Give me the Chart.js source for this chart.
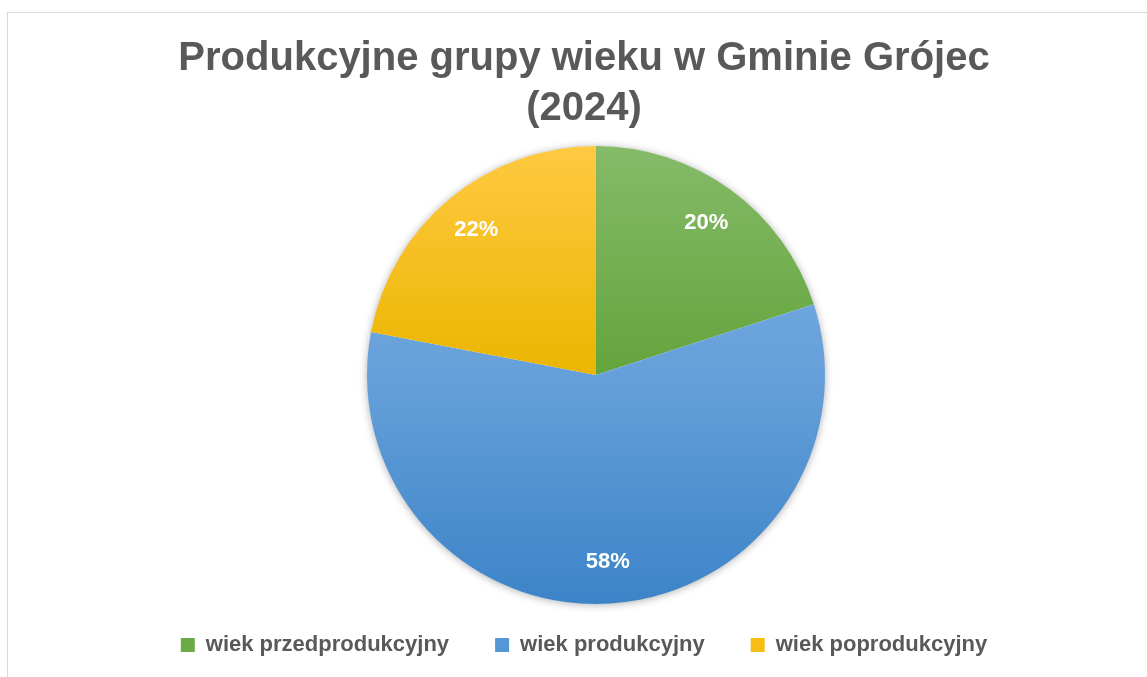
<!DOCTYPE html>
<html lang="pl">
<head>
<meta charset="utf-8">
<title>Produkcyjne grupy wieku w Gminie Grójec (2024)</title>
<script src="https://cdn.jsdelivr.net/npm/chart.js@4.4.0/dist/chart.umd.min.js"></script>
<style>
  html, body { margin: 0; padding: 0; background: #fff; overflow: hidden; }
  #frame { position: absolute; left: 7px; top: 12px; width: 1200px; height: 720px; border: 1px solid #d9d9d9; box-sizing: border-box; }
  #wrap { position: absolute; left: 0; top: 0; width: 1147px; height: 677px; }
</style>
</head>
<body>
<div id="frame"></div>
<div id="wrap"><canvas id="pieChart" width="1147" height="677"></canvas></div>
<script>
const chartTitle = ['Produkcyjne grupy wieku w Gminie Grójec', '(2024)'];
const categories = ['wiek przedprodukcyjny', 'wiek produkcyjny', 'wiek poprodukcyjny'];
const shares = [20, 58, 22];

// gradient stops per slice, top of pie -> bottom of pie
const sliceStops = [
  ['#85bb69', '#64a43c', '#4f8f2b'],
  ['#7db1e1', '#66a0da', '#3c84c8'],
  ['#ffc942', '#ebb500', '#d9a400']
];
const legendColors = ['#6aab45', '#5596d5', '#f6be14'];

function sliceFill(ctx) {
  const chart = ctx.chart;
  const a = chart.chartArea;
  if (!a) return legendColors[ctx.dataIndex];
  const r = Math.min(a.right - a.left, a.bottom - a.top) / 2;
  const cy = (a.top + a.bottom) / 2;
  const g = chart.ctx.createLinearGradient(0, cy - r, 0, cy + r);
  const stops = sliceStops[ctx.dataIndex];
  stops.forEach((c, k) => g.addColorStop(k / (stops.length - 1), c));
  return g;
}

// put the pie where the original has it
const pieArea = {
  id: 'pieArea',
  afterLayout(chart) {
    const a = chart.chartArea;
    a.left = 367; a.right = 825; a.top = 146; a.bottom = 604;
    a.width = 458; a.height = 458;
  }
};

// soft shadow under the pie + percentage labels
const pieExtras = {
  id: 'pieExtras',
  beforeDatasetsDraw(chart) {
    const arc = chart.getDatasetMeta(0).data[0];
    if (!arc) return;
    const ctx = chart.ctx;
    ctx.save();
    ctx.shadowColor = 'rgba(0,0,0,0.35)';
    ctx.shadowBlur = 8;
    ctx.shadowOffsetY = 1;
    ctx.fillStyle = '#fff';
    ctx.beginPath();
    ctx.arc(arc.x, arc.y, arc.outerRadius - 0.5, 0, Math.PI * 2);
    ctx.fill();
    ctx.restore();
  },
  afterDatasetsDraw(chart) {
    const ctx = chart.ctx;
    const data = chart.data.datasets[0].data;
    const total = data.reduce((s, v) => s + v, 0);
    ctx.save();
    ctx.font = 'bold 22px "Liberation Sans", Arial, sans-serif';
    ctx.fillStyle = '#ffffff';
    ctx.textAlign = 'center';
    ctx.textBaseline = 'middle';
    chart.getDatasetMeta(0).data.forEach((arc, i) => {
      const p = arc.getProps(['x', 'y', 'startAngle', 'endAngle', 'outerRadius'], true);
      const mid = (p.startAngle + p.endAngle) / 2;
      const d = p.outerRadius * 0.82;
      ctx.fillText(Math.round(data[i] / total * 100) + '%', p.x + Math.cos(mid) * d, p.y + Math.sin(mid) * d);
    });
    ctx.restore();
  }
};

const ctx = document.getElementById('pieChart').getContext('2d');
const chart = new Chart(ctx, {
  type: 'pie',
  data: {
    labels: categories,
    datasets: [{
      data: shares,
      backgroundColor: sliceFill,
      borderWidth: 0,
      hoverOffset: 0
    }]
  },
  options: {
    responsive: false,
    animation: false,
    layout: { padding: { left: 21, right: 0, top: 0, bottom: 11 } },
    plugins: {
      tooltip: { enabled: false },
      title: {
        display: true,
        text: chartTitle,
        color: '#595959',
        font: { family: '"Liberation Sans", Arial, sans-serif', size: 40, weight: 'bold', lineHeight: '50px' },
        padding: { top: 34, bottom: 4 }
      },
      legend: {
        position: 'bottom',
        labels: {
          color: '#595959',
          font: { family: '"Liberation Sans", Arial, sans-serif', size: 22, weight: 'bold' },
          boxWidth: 14,
          boxHeight: 14,
          padding: 46,
          generateLabels(chart) {
            return chart.data.labels.map((label, i) => ({
              text: label,
              fillStyle: legendColors[i],
              strokeStyle: legendColors[i],
              fontColor: '#595959',
              lineWidth: 0,
              hidden: false,
              index: i
            }));
          }
        }
      }
    }
  },
  plugins: [pieArea, pieExtras]
});
</script>
</body>
</html>
